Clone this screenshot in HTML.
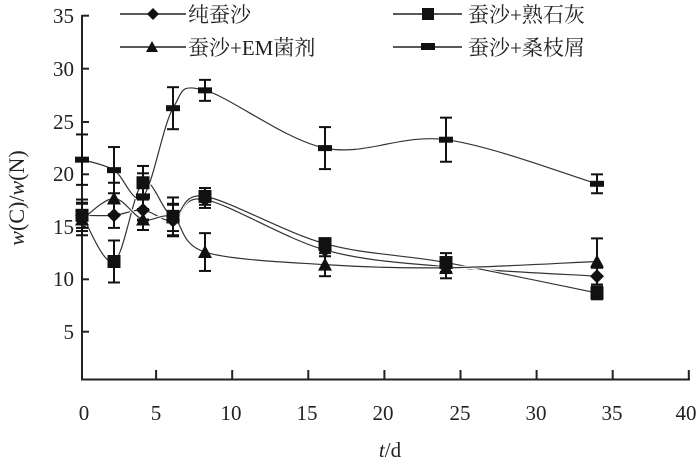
<!DOCTYPE html>
<html><head><meta charset="utf-8"><style>
html,body{margin:0;padding:0;background:#fff;}
svg text{font-family:"Liberation Serif","Noto Serif CJK SC",serif;fill:#222;}
</style></head><body>
<svg id="s" width="700" height="459" viewBox="0 0 700 459" xmlns="http://www.w3.org/2000/svg">
<g stroke="#222" stroke-width="2" fill="none">
<line x1="82" y1="15" x2="82" y2="380"/>
<line x1="81" y1="379.5" x2="690" y2="379.5"/>
</g>
<g id="ticks" stroke="#222" stroke-width="2"></g>
<g font-size="21" text-anchor="end">
<text x="74" y="23">35</text><text x="74" y="76">30</text><text x="74" y="129">25</text>
<text x="74" y="181">20</text><text x="74" y="234">15</text><text x="74" y="286">10</text>
<text x="74" y="339">5</text>
</g>
<g font-size="21" text-anchor="middle">
<text x="84" y="420">0</text><text x="156" y="420">5</text><text x="231" y="420">10</text>
<text x="307" y="420">15</text><text x="383" y="420">20</text><text x="460" y="420">25</text>
<text x="536" y="420">30</text><text x="612" y="420">35</text><text x="686" y="420">40</text>
<text x="390" y="457"><tspan font-style="italic">t</tspan>/d</text>
</g>
<text font-size="22" transform="translate(24,198) rotate(-90)" text-anchor="middle"><tspan font-style="italic">w</tspan>(C)/<tspan font-style="italic">w</tspan>(N)</text>
<g font-size="21">
<line x1="120" y1="14" x2="186" y2="14" stroke="#222" stroke-width="1.5"/>
<path d="M153 8 L159 14 L153 20 L147 14Z" fill="#111"/>
<text x="188" y="22">纯蚕沙</text>
<line x1="120" y1="47" x2="186" y2="47" stroke="#222" stroke-width="1.5"/>
<path d="M152 41 L158 52 L146 52Z" fill="#111"/>
<text x="188" y="55">蚕沙+EM菌剂</text>
<line x1="393" y1="14" x2="462" y2="14" stroke="#222" stroke-width="1.5"/>
<rect x="422" y="8" width="12" height="12" fill="#111"/>
<text x="468" y="22">蚕沙+熟石灰</text>
<line x1="393" y1="47" x2="462" y2="47" stroke="#222" stroke-width="1.5"/>
<rect x="421" y="43" width="14" height="7" fill="#111"/>
<text x="468" y="55">蚕沙+桑枝屑</text>
</g>
<g id="plot"></g>
</svg>
<script>
var NS="http://www.w3.org/2000/svg";
function Y(v){return 383.3-10.5*v;}
var xs=[82,114,143,173,205,325,446,597];
var tk=document.getElementById('ticks');
[331.7,279.3,226.7,174.3,122,68.7,15.7].forEach(function(y){var l=document.createElementNS(NS,'line');l.setAttribute('x1',82);l.setAttribute('x2',89);l.setAttribute('y1',y);l.setAttribute('y2',y);tk.appendChild(l);});
for(var i=1;i<=8;i++){var x=80+76.1*i;var l=document.createElementNS(NS,'line');l.setAttribute('x1',x);l.setAttribute('x2',x);l.setAttribute('y1',379);l.setAttribute('y2',370);tk.appendChild(l);}
var series=[
 {m:'d',v:[16,16,16.5,15.5,17.5,12.7,11.1,10.2],e:[1.5,1.2,1,1.5,0.8,0.6,0.6,0.8]},
 {m:'s',v:[16,11.6,19.1,15.9,17.8,13.3,11.5,8.6],e:[1.2,2,1.6,1.8,0.8,0.5,0.9,0.6]},
 {m:'t',v:[15.6,17.6,15.6,15.8,12.5,11.3,11,11.6],e:[1.5,1.5,1,1.3,1.8,1.1,1,2.2]},
 {m:'b',v:[21.3,20.3,17.8,26.2,27.9,22.4,23.2,19],e:[2.4,2.2,2.2,2,1,2,2.1,0.9]}
];
var g=document.getElementById('plot');
function el(n,a){var e=document.createElementNS(NS,n);for(var k in a)e.setAttribute(k,a[k]);g.appendChild(e);return e;}
series.forEach(function(s){
 var p=xs.map(function(x,i){return [x,Y(s.v[i])];});
 var d='M'+p[0][0]+' '+p[0][1];
 for(var i=0;i<p.length-1;i++){
  var p0=p[i-1]||p[i],p1=p[i],p2=p[i+1],p3=p[i+2]||p2,t=6;
  var c1=[p1[0]+(p2[0]-p0[0])/t,p1[1]+(p2[1]-p0[1])/t];
  var c2=[p2[0]-(p3[0]-p1[0])/t,p2[1]-(p3[1]-p1[1])/t];
  d+=' C'+c1+' '+c2+' '+p2;
 }
 el('path',{d:d,fill:'none',stroke:'#fff',"stroke-width":3.2});
 el('path',{d:d,fill:'none',stroke:'#333',"stroke-width":1.2});
});
series.forEach(function(s){
 xs.forEach(function(x,i){
  var y=Y(s.v[i]),e=s.e[i]*10.5;
  el('line',{x1:x,x2:x,y1:y-e,y2:y+e,stroke:'#111',"stroke-width":2});
  el('line',{x1:x-6,x2:x+6,y1:y-e,y2:y-e,stroke:'#111',"stroke-width":2});
  el('line',{x1:x-6,x2:x+6,y1:y+e,y2:y+e,stroke:'#111',"stroke-width":2});
  if(s.m=='d')el('path',{d:'M'+x+' '+(y-7)+' L'+(x+7)+' '+y+' L'+x+' '+(y+7)+' L'+(x-7)+' '+y+'Z',fill:'#111'});
  if(s.m=='s')el('rect',{x:x-6.5,y:y-6.5,width:13,height:13,fill:'#111'});
  if(s.m=='t')el('path',{d:'M'+x+' '+(y-7)+' L'+(x+7)+' '+(y+6)+' L'+(x-7)+' '+(y+6)+'Z',fill:'#111'});
  if(s.m=='b')el('rect',{x:x-7,y:y-3,width:14,height:6,fill:'#111'});
 });
});
</script>
</body></html>
